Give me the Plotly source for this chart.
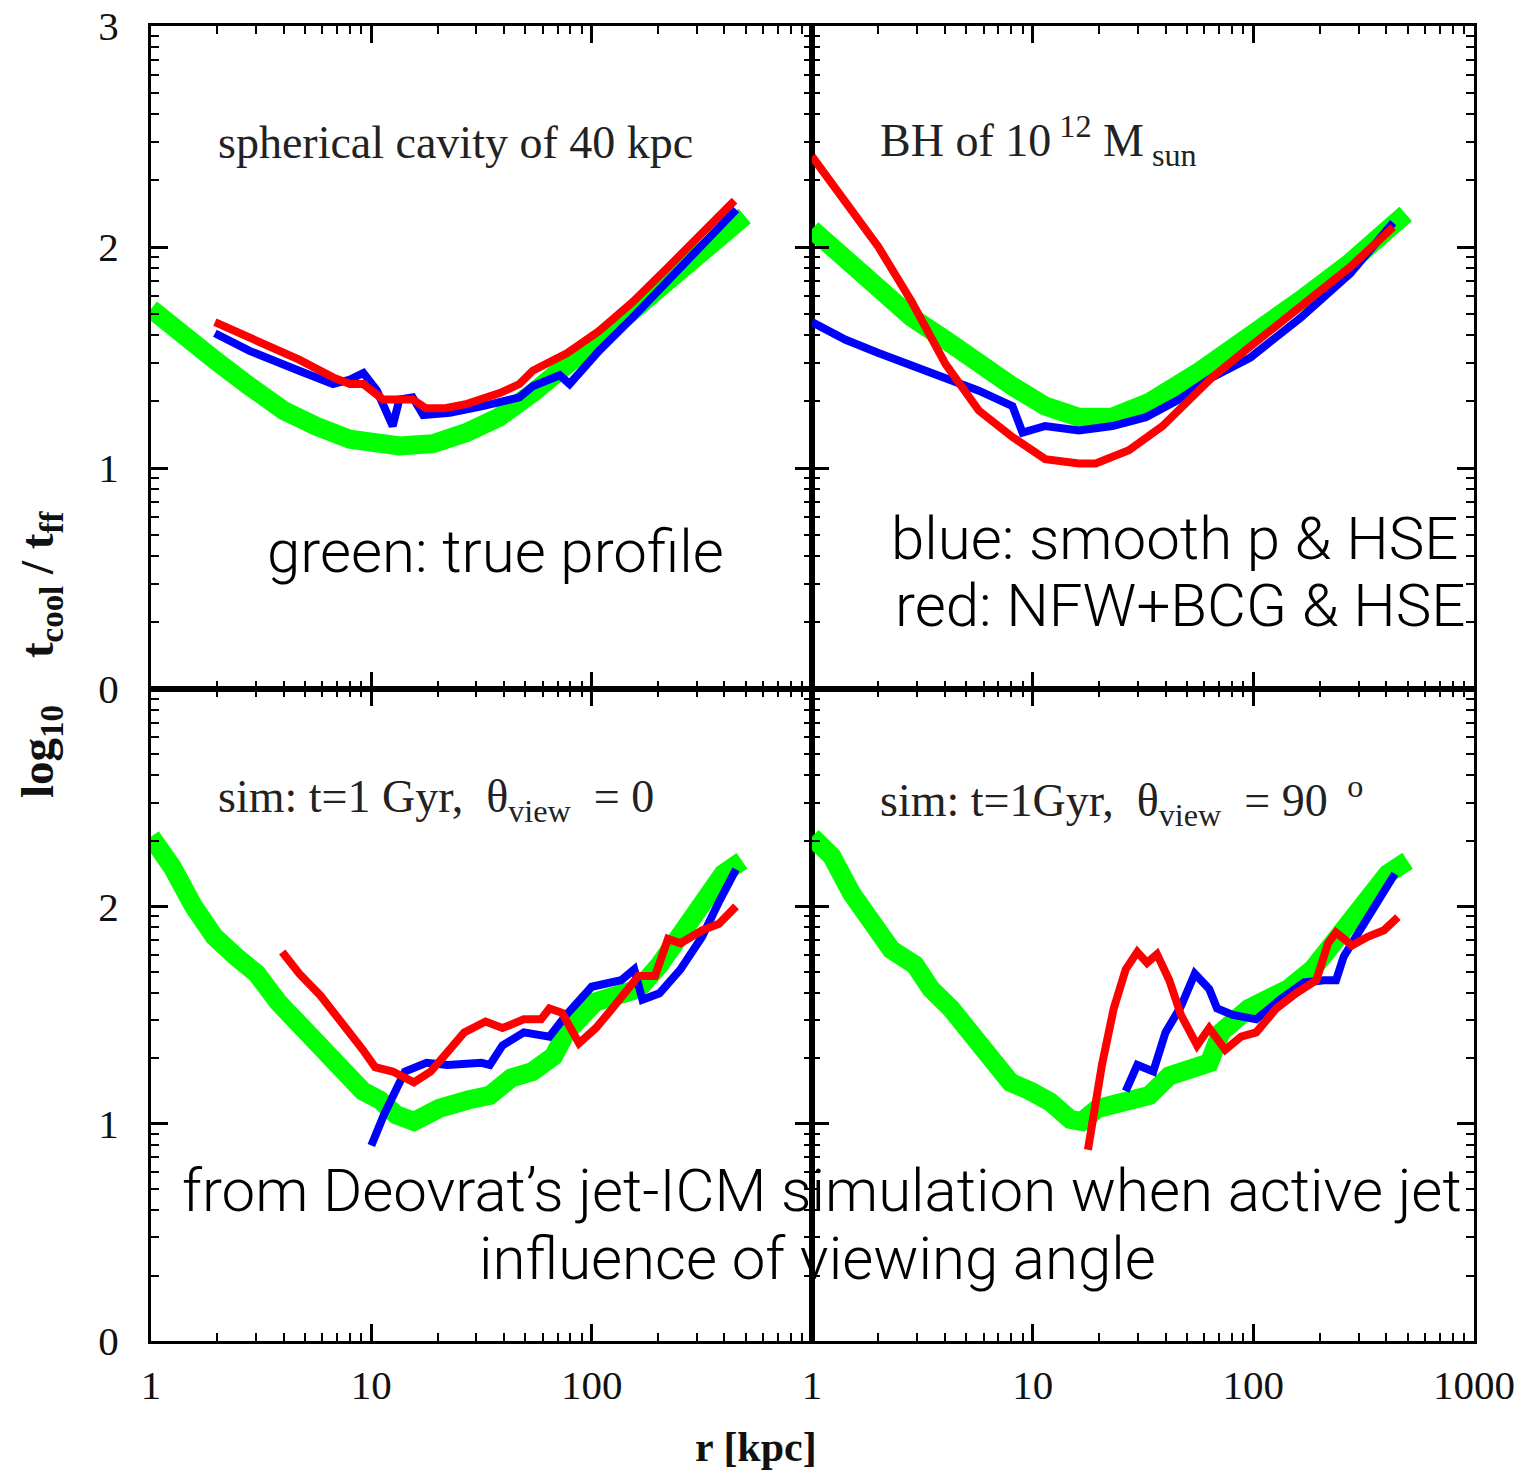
import math
import plotly.graph_objects as go

# ---------------- data ----------------
# top-left: spherical cavity of 40 kpc
TL_GREEN_R = [1, 1.4, 2, 2.8, 4, 5.6, 8, 13.4, 19, 27, 38, 54, 77.5, 108, 153, 218, 310, 495]
TL_GREEN_Y = [1.72, 1.59, 1.48, 1.37, 1.26, 1.19, 1.13, 1.10, 1.11, 1.16, 1.23, 1.34, 1.46, 1.58, 1.71, 1.84, 1.97, 2.14]
TL_BLUE_R = [1.95, 2.8, 4.7, 6.7, 8.0, 9.2, 10.6, 12.5, 13.4, 15.4, 17.2, 22.7, 32, 47, 54, 71.6, 79.4, 108, 153, 218, 310, 453]
TL_BLUE_Y = [1.61, 1.53, 1.44, 1.38, 1.40, 1.43, 1.35, 1.19, 1.31, 1.32, 1.24, 1.25, 1.28, 1.32, 1.37, 1.42, 1.38, 1.53, 1.68, 1.84, 1.99, 2.17]
TL_RED_R = [1.95, 2.8, 4.7, 6.7, 8.0, 9.2, 11.3, 15.4, 17.7, 21.4, 27.2, 38.5, 47, 54, 77.5, 108, 153, 218, 310, 445]
TL_RED_Y = [1.66, 1.59, 1.49, 1.41, 1.38, 1.38, 1.31, 1.31, 1.27, 1.27, 1.29, 1.34, 1.38, 1.44, 1.52, 1.62, 1.75, 1.90, 2.05, 2.21]

# top-right: BH of 10^12 Msun
TR_GREEN_R = [1, 1.42, 2.0, 2.84, 4.03, 5.7, 8.1, 11.4, 16.2, 23, 34.2, 57.6, 97.2, 164, 275, 390, 490]
TR_GREEN_Y = [2.08, 1.94, 1.80, 1.68, 1.58, 1.47, 1.37, 1.28, 1.23, 1.23, 1.30, 1.44, 1.59, 1.76, 1.93, 2.06, 2.15]
TR_BLUE_R = [1, 1.42, 2.0, 2.84, 4.03, 5.7, 8.1, 9.0, 11.4, 16.2, 23, 32.6, 46, 65, 97, 164, 275, 430]
TR_BLUE_Y = [1.66, 1.58, 1.52, 1.46, 1.40, 1.35, 1.28, 1.16, 1.19, 1.17, 1.19, 1.23, 1.31, 1.41, 1.50, 1.68, 1.88, 2.11]
TR_RED_R = [1, 1.42, 2.0, 2.84, 4.03, 5.7, 8.1, 11.4, 16.2, 19.3, 27.3, 38.8, 55, 65, 97, 164, 275, 430]
TR_RED_Y = [2.41, 2.21, 2.00, 1.75, 1.47, 1.26, 1.14, 1.04, 1.02, 1.02, 1.08, 1.19, 1.34, 1.41, 1.55, 1.73, 1.91, 2.09]

# bottom-left: sim t=1 Gyr, theta_view = 0
BL_GREEN_R = [1, 1.25, 1.56, 1.94, 2.42, 3.02, 3.77, 4.70, 5.87, 7.33, 9.15, 10.9, 13.0, 15.6, 20.3, 27.7,
              34.5, 43.1, 53.8, 67.1, 76.6, 104, 163, 203, 253, 317, 395, 481]
BL_GREEN_Y = [2.32, 2.18, 2.00, 1.86, 1.77, 1.69, 1.56, 1.45, 1.34, 1.24, 1.15, 1.11, 1.04, 1.01, 1.07, 1.11,
              1.13, 1.21, 1.24, 1.31, 1.42, 1.56, 1.62, 1.73, 1.88, 2.03, 2.15, 2.21]
BL_BLUE_R = [10, 11.4, 14.2, 17.8, 22.2, 31.6, 34.5, 39.4, 49.2, 64.3, 76.6, 100, 136, 156, 170, 203, 253, 317, 378, 452]
BL_BLUE_Y = [0.90, 1.04, 1.24, 1.28, 1.27, 1.28, 1.27, 1.36, 1.42, 1.40, 1.50, 1.63, 1.66, 1.71, 1.57, 1.60, 1.71, 1.86, 2.02, 2.17]
BL_RED_R = [3.94, 4.71, 5.87, 7.33, 9.15, 10.4, 12.5, 15.6, 18.6, 22.2, 26.4, 33.0, 39.4, 49.2, 58.9, 64.3, 73.3,
            87.6, 104.6, 124, 163, 194, 222, 253, 317, 378, 452]
BL_RED_Y = [1.79, 1.69, 1.59, 1.47, 1.34, 1.26, 1.24, 1.19, 1.24, 1.33, 1.42, 1.47, 1.44, 1.48, 1.48, 1.53, 1.51,
            1.37, 1.44, 1.53, 1.68, 1.68, 1.85, 1.83, 1.89, 1.92, 2.00]

# bottom-right: sim t=1 Gyr, theta_view = 90 deg
BR_GREEN_R = [1, 1.23, 1.51, 1.86, 2.29, 2.93, 3.46, 4.26, 5.25, 6.45, 7.94, 9.77, 12.0, 14.8, 16.7, 19.7, 27.5,
              33.8, 41.6, 51.3, 63.1, 71.3, 95.3, 144, 185, 218, 268, 330, 406, 500]
BR_GREEN_Y = [2.32, 2.23, 2.06, 1.91, 1.80, 1.73, 1.62, 1.53, 1.42, 1.31, 1.19, 1.15, 1.10, 1.02, 1.01, 1.07, 1.11,
              1.13, 1.22, 1.25, 1.28, 1.42, 1.53, 1.62, 1.71, 1.80, 1.91, 2.03, 2.15, 2.21]
BR_BLUE_R = [26.4, 29.8, 35.2, 40.0, 47.0, 54.3, 63.1, 68.5, 80.8, 103, 132, 170, 209, 237, 257, 303, 360, 438]
BR_BLUE_Y = [1.15, 1.27, 1.24, 1.42, 1.54, 1.69, 1.62, 1.53, 1.50, 1.48, 1.57, 1.65, 1.66, 1.66, 1.77, 1.89, 2.00, 2.15]
BR_RED_R = [17.8, 19.0, 20.6, 23.3, 26.4, 29.8, 33.0, 36.6, 41.6, 47.0, 55.6, 63.1, 74.6, 88.0, 103, 127, 156, 193,
            218, 237, 280, 330, 391, 452]
BR_RED_Y = [0.88, 1.07, 1.27, 1.53, 1.71, 1.79, 1.74, 1.78, 1.66, 1.50, 1.36, 1.44, 1.34, 1.40, 1.42, 1.53, 1.60, 1.66,
            1.83, 1.88, 1.82, 1.86, 1.89, 1.95]

X_TICKS = [1, 10, 100, 1000]
X_TICK_TEXT_LEFT = ["1", "10", "100", ""]
X_TICK_TEXT_RIGHT = ["1", "10", "100", "1000"]
Y_TICKS = [0, 1, 2, 3]
Y_TICK_TEXT_TOP = ["0", "1", "2", "3"]
Y_TICK_TEXT_BOTTOM = ["0", "1", "2", ""]

NB = "\u00a0"
PANEL_LABELS = {
    "tl": "spherical cavity of 40 kpc",
    "tr": "BH of 10<sup>" + NB + "12</sup>" + NB + "M<sub>" + NB + "sun</sub>",
    "bl": "sim: t=1 Gyr," + NB + " θ<sub>view</sub>" + NB + " = 0",
    "br": "sim: t=1Gyr," + NB + " θ<sub>view</sub>" + NB + " = 90 <sup>" + NB + "o</sup>",
}

GREEN, BLUE, RED = "#00ff00", "#0000ff", "#ff0000"

# ---------------- figure ----------------
W, H = 1521, 1475
fig = go.Figure()

panels = {
    "tl": ("x3", "y3", (TL_GREEN_R, TL_GREEN_Y), (TL_BLUE_R, TL_BLUE_Y), (TL_RED_R, TL_RED_Y)),
    "tr": ("x4", "y4", (TR_GREEN_R, TR_GREEN_Y), (TR_BLUE_R, TR_BLUE_Y), (TR_RED_R, TR_RED_Y)),
    "bl": ("x", "y", (BL_GREEN_R, BL_GREEN_Y), (BL_BLUE_R, BL_BLUE_Y), (BL_RED_R, BL_RED_Y)),
    "br": ("x2", "y2", (BR_GREEN_R, BR_GREEN_Y), (BR_BLUE_R, BR_BLUE_Y), (BR_RED_R, BR_RED_Y)),
}

for key, (xa, ya, g, b, r) in panels.items():
    fig.add_trace(go.Scatter(x=g[0], y=g[1], xaxis=xa, yaxis=ya, mode="lines",
                             line=dict(color=GREEN, width=19), showlegend=False))
    fig.add_trace(go.Scatter(x=b[0], y=b[1], xaxis=xa, yaxis=ya, mode="lines",
                             line=dict(color=BLUE, width=8), showlegend=False))
    fig.add_trace(go.Scatter(x=r[0], y=r[1], xaxis=xa, yaxis=ya, mode="lines",
                             line=dict(color=RED, width=8), showlegend=False))

minor_x = [k * 10 ** n for n in range(3) for k in range(2, 10)]
minor_y = [n + math.log10(k) for n in range(3) for k in range(2, 10)]

serif = "Liberation Serif, Times New Roman, serif"
tickfont = dict(family=serif, size=41, color="#111")

def xaxis(domain, anchor, labels, show):
    return dict(type="log", range=[0, 3], domain=domain, anchor=anchor, automargin=False,
                tickmode="array", tickvals=X_TICKS, ticktext=labels, showticklabels=show,
                ticks="inside", ticklen=17, tickwidth=2.5, tickcolor="black",
                minor=dict(tickmode="array", tickvals=minor_x, ticks="inside", ticklen=8,
                           tickwidth=2, tickcolor="black", showgrid=False),
                showline=True, linewidth=3, linecolor="black", mirror="allticks",
                showgrid=False, zeroline=False, tickfont=tickfont, ticklabelstandoff=6)

def yaxis(domain, anchor, labels, show):
    return dict(range=[0, 3], domain=domain, anchor=anchor, automargin=False,
                tickmode="array", tickvals=Y_TICKS, ticktext=labels, showticklabels=show,
                ticks="inside", ticklen=17, tickwidth=2.5, tickcolor="black",
                minor=dict(tickmode="array", tickvals=minor_y, ticks="inside", ticklen=8,
                           tickwidth=2, tickcolor="black", showgrid=False),
                showline=True, linewidth=3, linecolor="black", mirror="allticks",
                showgrid=False, zeroline=False, tickfont=tickfont, ticklabelstandoff=21)

XL = [151 / W, 812 / W]
XR = [812 / W, 1474 / W]
YT = [1 - 689 / H, 1 - 26 / H]
YB = [1 - 1341 / H, 1 - 689 / H]

fig.update_layout(
    width=W, height=H, margin=dict(l=0, r=0, t=0, b=0, autoexpand=False),
    paper_bgcolor="white", plot_bgcolor="white", showlegend=False,
    xaxis=xaxis(XL, "y", X_TICK_TEXT_LEFT, True),
    xaxis2=xaxis(XR, "y2", X_TICK_TEXT_RIGHT, True),
    xaxis3=xaxis(XL, "y3", X_TICK_TEXT_RIGHT, False),
    xaxis4=xaxis(XR, "y4", X_TICK_TEXT_RIGHT, False),
    yaxis=yaxis(YB, "x", Y_TICK_TEXT_BOTTOM, True),
    yaxis2=yaxis(YB, "x2", Y_TICK_TEXT_BOTTOM, False),
    yaxis3=yaxis(YT, "x3", Y_TICK_TEXT_TOP, True),
    yaxis4=yaxis(YT, "x4", Y_TICK_TEXT_TOP, False),
)

def px(x, y):
    return x / W, 1 - y / H

ann = []
labfont = dict(family=serif, size=46, color="#222")
for key, (xp, yp) in {"tl": (216, 142), "tr": (878, 140), "bl": (216, 800), "br": (878, 800)}.items():
    ax, ay = px(xp, yp)
    ann.append(dict(text=PANEL_LABELS[key], x=ax, y=ay, xref="paper", yref="paper",
                    xanchor="left", yanchor="middle", showarrow=False, font=labfont))

# axis titles
ax, ay = px(40, 655)
ann.append(dict(text="<b>log<sub>10</sub>" + NB * 3 + " t<sub>cool</sub> / t<sub>ff</sub></b>", x=ax, y=ay,
                xref="paper", yref="paper", textangle=-90, showarrow=False,
                xanchor="center", yanchor="middle", font=dict(family=serif, size=47, color="#111")))
ax, ay = px(756, 1447)
ann.append(dict(text="<b>r [kpc]</b>", x=ax, y=ay, xref="paper", yref="paper", showarrow=False,
                xanchor="center", yanchor="middle", font=dict(family=serif, size=42, color="#111")))

# overlay notes
sans = dict(family="Roboto, Helvetica Neue, Liberation Sans, sans-serif", size=60, color="black", weight=300)
notes = [
    ("green: true profile", 265, 551, "left"),
    ("blue: smooth p &amp; HSE", 1460, 538, "right"),
    ("red: NFW+BCG &amp; HSE", 1467, 605, "right"),
    ("from Deovrat’s jet-ICM simulation when active jet", 180, 1190, "left"),
    ("influence of viewing angle", 477, 1258, "left"),
]
for t, xp, yp, anc in notes:
    ax, ay = px(xp, yp)
    ann.append(dict(text=t, x=ax, y=ay, xref="paper", yref="paper", showarrow=False,
                    xanchor=anc, yanchor="middle", font=sans))

fig.update_layout(annotations=ann)
fig.write_html("out.html")
